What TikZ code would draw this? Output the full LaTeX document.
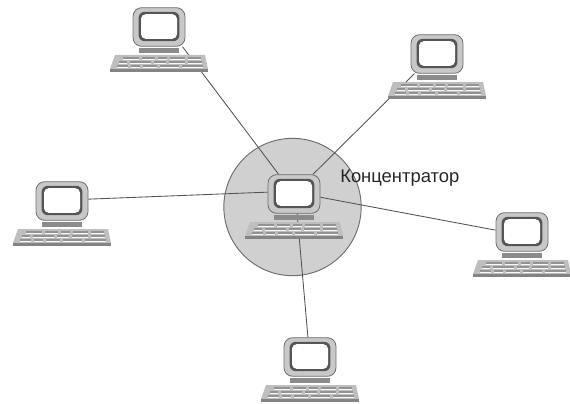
\documentclass[tikz,border=0pt]{standalone}
\usepackage{fontspec}
\setmainfont{Liberation Sans}
\usetikzlibrary{positioning,backgrounds}
\definecolor{hubgray}{RGB}{208,208,208}
\definecolor{casegray}{RGB}{200,200,200}
\definecolor{edgegray}{RGB}{110,110,110}
\definecolor{ringgray}{RGB}{85,85,85}
\definecolor{keygray}{RGB}{190,190,190}
\tikzset{
    link/.style={draw=ringgray, line width=0.65pt},
    computer/.pic={
        % Monitor
        \node[draw=edgegray, line width=0.6pt, rectangle, rounded corners=6.5pt, minimum width=39pt, minimum height=29pt, fill=casegray, inner sep=0pt] (mon) at (0,0) {};
        \node[rectangle, rounded corners=4.5pt, minimum width=30.5pt, minimum height=22pt, fill=ringgray, inner sep=0pt] (ring) at (0,-0.5) {};
        \node[rectangle, rounded corners=3.5pt, minimum width=27pt, minimum height=18.5pt, fill=white, inner sep=0pt] (screen) at (0,-0.5) {};
        % Stand
        \node[rectangle, minimum width=30pt, minimum height=4pt, fill=edgegray!80, inner sep=0pt] (stand) at (0,23.5) {};
        % Keyboard
        \fill[keygray] (-44,28) -- (46,28) -- (49,42) -- (-49,42) -- cycle;
        \fill[edgegray!85] (-49,42) rectangle (49,44.5);
        \foreach \kx/\ky/\kw in {-36/30/16,-17/30/13,-1/30/9,11/30/15,29/30/13,-40/34/8,-29/34/21,-5/34/12,10/34/16,29/34/14,-42/38/11,-28/38/9,-16/38/14,1/38/19,23/38/21} {
            \fill[edgegray!75] (\kx,\ky) rectangle ++(\kw,1.6);
            \fill[white!90!keygray] (\kx,\ky+1.6) rectangle ++(\kw,1);
        }
    }
}

\begin{document}
\begin{tikzpicture}[x=0.75pt, y=-0.75pt]
    \useasboundingbox (0,0) rectangle (570,403);
    % Computers
    \pic (hub) at (294,194) {computer};
    \pic (nw) at (159,27) {computer};
    \pic (ne) at (437,54) {computer};
    \pic (west) at (62,201) {computer};
    \pic (east) at (522,232) {computer};
    \pic (south) at (310,357) {computer};

    % Label
    \node[anchor=west, inner sep=0pt, font=\fontsize{13.8}{16}\selectfont, text=black!85] (hubname) at (340,178) {Концентратор};

    % Circle and links behind the computers
    \begin{scope}[on background layer]
        \node[draw=edgegray, line width=0.7pt, circle, minimum size=103pt, inner sep=0pt, fill=hubgray] (zone) at (292.5,207) {};
        \draw[link] (nwmon.320) -- (hubmon.128);
        \draw[link] (nemon.221) -- (hubmon.46);
        \draw[link] (westmon.4) -- (hubmon.176);
        \draw[link] (eastmon.176) -- (hubmon.353);
        \draw[link] (southmon.96) -- (hubmon.279);
    \end{scope}
\end{tikzpicture}
\end{document}
